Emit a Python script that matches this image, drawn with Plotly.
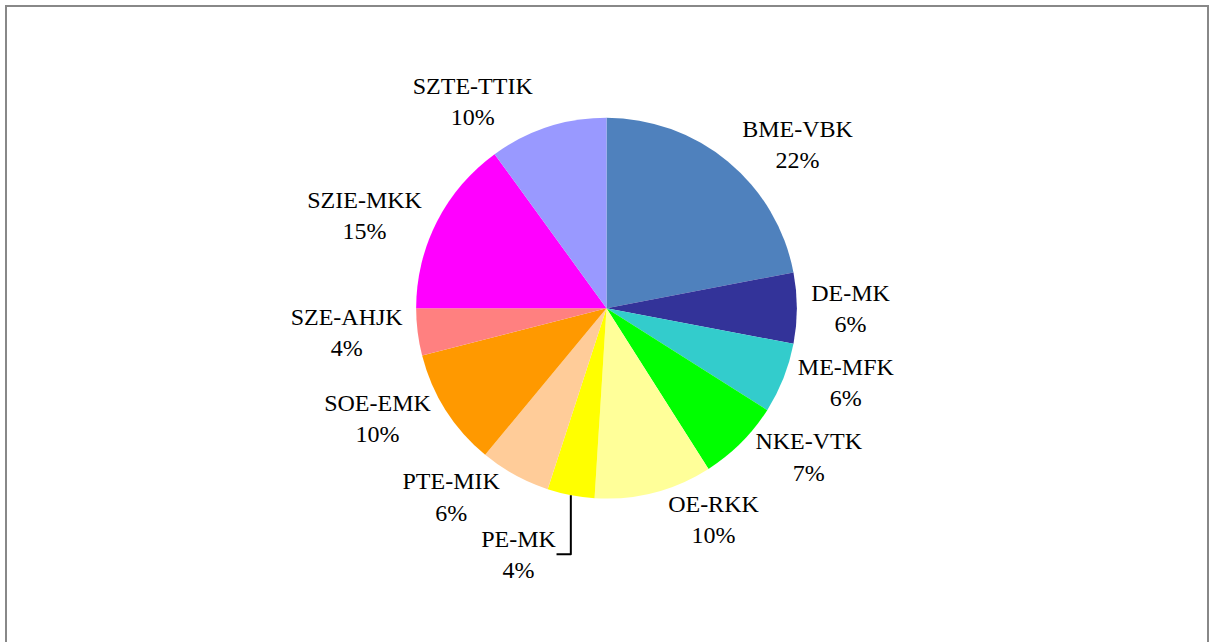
import plotly.graph_objects as go

# kari-k es reszesedes (%)
labels = ['BME-VBK', 'DE-MK', 'ME-MFK', 'NKE-VTK', 'OE-RKK', 'PE-MK',
          'PTE-MIK', 'SOE-EMK', 'SZE-AHJK', 'SZIE-MKK', 'SZTE-TTIK']
values = [22, 6, 6, 7, 10, 4, 6, 10, 4, 15, 10]
colors = ['#4F81BD', '#333399', '#33CCCC', '#00FF00', '#FFFF99', '#FFFF00',
          '#FFCC99', '#FF9900', '#FF8080', '#FF00FF', '#9999FF']

fig = go.Figure(go.Pie(labels=labels
                       ,values=values
                       ,sort=False
                       ,direction='clockwise'
                       ,rotation=0
                       ,marker=dict(colors=colors, line=dict(width=0))
                       ,textposition='outside'
                       ,texttemplate='%{label}<br>%{percent:.0%}'
                       ,textfont=dict(family='Liberation Serif', size=24, color='black')
                       ,domain=dict(x=[0.2, 0.8], y=[0.2235, 0.8165])
                       ,automargin=False
                       ,showlegend=False
                       ,hoverinfo='label+percent'
                       ))

# keret
fig.add_shape(type='rect', xref='paper', yref='paper'
              ,x0=6/1213, x1=1208/1213, y0=-0.05, y1=1-6/642
              ,line=dict(color='#888888', width=2))

fig.update_layout(width=1213, height=642
                  ,margin=dict(l=0, r=0, t=0, b=0, autoexpand=False)
                  ,paper_bgcolor='white'
                  ,plot_bgcolor='white')

fig.write_html("out.html"
               ,config={'displayModeBar': False}
               ,post_script="document.body.style.margin='0';document.body.style.overflow='hidden';")
